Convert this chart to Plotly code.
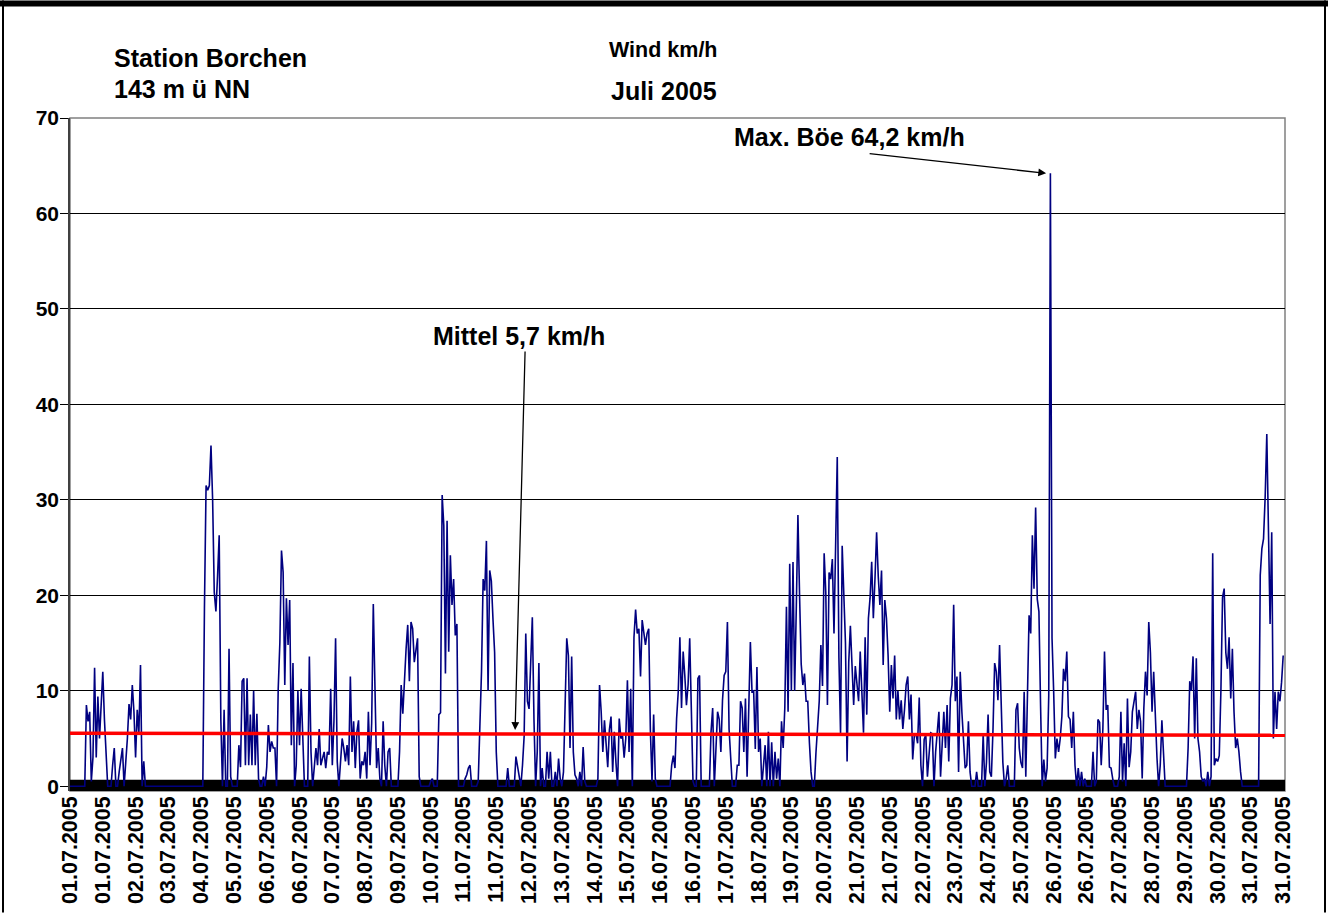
import plotly.graph_objects as go

# ---------------- data (hourly wind speed, km/h) ----------------
day01 = [0, 0, 0, 0, 0, 0, 0, 0, 0, 0, 8.5, 6.8, 7.8, 0.5, 3, 12.4, 3, 9.4, 5, 8.2, 12, 7, 3, 0]
day02 = [0, 0, 2.2, 4, 0, 0, 1.5, 3, 4, 0, 2.2, 5, 8.6, 7, 10.6, 7.8, 3, 8, 5.5, 12.7, 0, 2.6, 0, 0]
day03 = [0] * 24
day04 = [0, 0, 0, 0, 0, 0, 0, 0, 0, 0, 18.6, 31.5, 31, 31.5, 35.7, 30, 20.3, 18.3, 22, 26.3, 7, 0, 8, 0]
day05 = [0, 14.4, 1, 0, 0, 0, 0, 4.3, 2, 11, 11.3, 2.2, 11.3, 2.2, 7.5, 2.2, 10, 2.2, 7.6, 0.8, 0, 0, 1, 0]
day06 = [2, 6.4, 3.6, 4.7, 4, 4, 0, 10.2, 15, 24.7, 22.4, 10.6, 19.7, 14.8, 19.5, 4.3, 12.9, 0, 2.2, 10, 4.3, 10.2, 3.6, 0]
day07 = [0, 0, 13.6, 3.6, 0, 2, 4, 2.2, 6, 2.2, 3, 3.6, 1.9, 3.6, 3.3, 10.2, 2.2, 6.8, 15.5, 2.6, 0, 2.5, 5, 4]
day08 = [2.6, 4.3, 2.2, 11.5, 3.6, 6.8, 1.9, 5.7, 6.9, 0.8, 2.6, 2.2, 3.6, 0.8, 7.8, 2.2, 6.6, 19.1, 9.5, 1.9, 4, 0.8, 0, 6.8]
day09 = [2.2, 0, 3.6, 4, 0, 0, 0, 0, 0, 3.6, 10.6, 7.6, 11.6, 14.4, 16.9, 11, 17.2, 16.5, 13, 14.5, 15.5, 1, 0, 0]
day10 = [0, 0, 0, 0, 0.5, 0.8, 0, 0, 0, 7.5, 7.7, 30.5, 27.3, 11.8, 27.8, 14.1, 24.2, 19, 21.7, 15.8, 17, 0, 0, 0]
day11 = [0, 0.8, 1.2, 1.9, 2.2, 0, 0, 0, 0, 0.5, 6.4, 12, 21.7, 20.5, 25.7, 10, 22.6, 21.5, 17.5, 14, 3.6, 0, 0, 0]
day12 = [0, 0, 0, 1.9, 0, 0, 0, 0, 3.1, 2, 0.8, 0, 2.2, 5.2, 16, 8.9, 8.1, 12.9, 17.7, 7, 0, 3.6, 12.9, 0]
day13 = [1.9, 0, 0, 3.6, 0.8, 3.6, 0, 0, 1.5, 0, 2.9, 0.8, 0, 1.5, 8.5, 15.5, 13.7, 4, 13.6, 3.6, 1.2, 0.8, 0, 1.5]
day14 = [0, 4.1, 0.5, 0, 0, 0, 0, 0, 0, 0, 0.8, 10.6, 7.8, 3.6, 6.9, 4.3, 2, 5.9, 7.3, 1.5, 5.7, 2.5, 0, 7.1]
day15 = [5, 5.3, 3, 5, 11.1, 3.6, 10.2, 0, 15.6, 18.5, 16, 16.5, 11.5, 17.4, 15.8, 14.8, 16, 16.5, 5.9, 0.5, 7.5, 0.8, 0, 0]
day16 = [0, 0, 0, 0, 0, 0, 0, 2.2, 3.2, 1.9, 7.1, 9.9, 15.6, 8.2, 14.1, 11.6, 8.5, 10.6, 15.5, 8, 0.5, 0, 0, 11.3]
day17 = [11.6, 0, 0, 0, 0, 0, 0, 5.7, 8.2, 0, 4, 7.8, 7, 3.6, 9, 11.6, 12, 17.2, 6, 3, 0, 0, 0, 2.2]
day18 = [2.2, 8.9, 8.2, 3.6, 9.2, 1, 7, 15.1, 9.9, 10, 3.9, 12.5, 3.6, 5, 0, 1.9, 4.3, 0, 5.7, 0, 4.6, 0, 3.6, 0.8]
day19 = [2.9, 0, 6.8, 4, 8.2, 18.8, 7.8, 23.3, 10, 23.5, 10, 18.6, 28.4, 20, 12.8, 10.6, 11.8, 8.9, 8.9, 4.6, 1.5, 0, 0, 3.5]
day20 = [6, 8.9, 14.8, 10.5, 24.4, 20.3, 8.5, 22.4, 21.7, 23.8, 16, 25.2, 34.5, 13.5, 5.5, 25.2, 18.9, 15, 2.6, 13, 16.8, 12.9, 8.5, 12.6]
day21 = [10.6, 8.9, 14.1, 10.2, 5.6, 15.6, 7.5, 17.6, 19.7, 23.5, 17.6, 21.7, 26.6, 22, 19, 22.6, 12.7, 19.5, 17.6, 13.7, 7.8, 12.7, 9.2, 13.7]
day22 = [7, 10, 7, 9, 6, 8, 10.6, 11.5, 7, 9.6, 2.8, 5.3, 5.5, 4.5, 9.3, 2.2, 0, 4.9, 5.4, 1, 3, 5.6, 5.5, 0]
day23 = [3.6, 5.6, 7.8, 1, 5.4, 7.8, 4, 8.5, 2.6, 9.2, 10.6, 19, 8.9, 11.5, 1.5, 12, 7.8, 5, 1.9, 2.2, 6.8, 1.5, 0, 0]
day24 = [0, 1.5, 0, 0, 0, 5.5, 0, 2.5, 7.5, 1.5, 1, 6, 12.9, 12, 9, 14.8, 8, 2.5, 0, 0.8, 2.2, 0, 0, 0]
day25 = [0, 8, 8.7, 4, 2.5, 1.9, 9.9, 1, 8, 17.9, 16, 26.3, 20.7, 29.2, 19.6, 18.3, 8.5, 0, 2.8, 0.5, 1.9, 9.5, 64.2, 15.5]
day26 = [9.9, 2.9, 5, 3.6, 5, 7.3, 12.3, 11, 14.1, 7.3, 7, 4, 7.8, 2.2, 0, 1.9, 0, 1.5, 0, 0.8, 0, 0, 0, 0]
day27 = [3.6, 0, 0.5, 7, 6.7, 2.2, 6, 14.1, 8, 8.5, 2, 1.9, 0.8, 0, 0, 0, 1, 7.8, 0.5, 4.5, 0, 9.2, 2, 3.6]
day28 = [7.8, 8.9, 9.9, 6, 8, 6.8, 0.8, 8.2, 12, 9.5, 17.2, 14, 7.8, 12, 7, 3, 0, 2.2, 6.9, 3, 0, 0, 0, 0]
day29 = [0, 0, 0, 0, 0, 0, 0, 0, 0, 0, 4, 11, 10, 13.6, 5, 13.4, 5, 3.6, 1, 0.5, 0.8, 0, 1.5, 0]
day30 = [1, 24.4, 2.2, 2.9, 2.6, 3.2, 10, 19.8, 20.7, 14, 12.3, 15.6, 9.2, 14.4, 7.8, 4, 5, 3.6, 1.5, 0, 0, 0, 0, 0]
day31 = [0, 0, 0, 0, 0, 0, 22.1, 24.9, 25.9, 30.3, 36.9, 25.2, 17, 26.6, 5, 9.9, 6, 9.9, 8.9, 10.9, 13.7]

days = [day01, day02, day03, day04, day05, day06, day07, day08, day09, day10,
        day11, day12, day13, day14, day15, day16, day17, day18, day19, day20,
        day21, day22, day23, day24, day25, day26, day27, day28, day29, day30, day31]
wind_kmh = [v for d in days for v in d]
hours = list(range(len(wind_kmh)))

# category labels, one every 20 hours
tick_dates = ["01.07.2005", "01.07.2005", "02.07.2005", "03.07.2005", "04.07.2005",
              "05.07.2005", "06.07.2005", "06.07.2005", "07.07.2005", "08.07.2005",
              "09.07.2005", "10.07.2005", "11.07.2005", "11.07.2005", "12.07.2005",
              "13.07.2005", "14.07.2005", "15.07.2005", "16.07.2005", "16.07.2005",
              "17.07.2005", "18.07.2005", "19.07.2005", "20.07.2005", "21.07.2005",
              "21.07.2005", "22.07.2005", "23.07.2005", "24.07.2005", "25.07.2005",
              "26.07.2005", "26.07.2005", "27.07.2005", "28.07.2005", "29.07.2005",
              "30.07.2005", "31.07.2005", "31.07.2005"]
tick_step_hours = 20
tick_hours = [i * tick_step_hours for i in range(len(tick_dates))]

y_ticks = [0, 10, 20, 30, 40, 50, 60, 70]

# mean / trend line (km/h) at start and end of month
mean_trend = [5.55, 5.35]
# calm band (zero series)
calm_series = [0, 0]

max_gust_value = max(wind_kmh)
max_gust_hour = wind_kmh.index(max_gust_value)

# ---------------- figure ----------------
FONT = "Liberation Sans, Arial, sans-serif"
X_END = 741.1
W, H = 1328, 916
ML, MR, MT, MB = 70, 43, 118, 122
PW, PH = W - ML - MR, H - MT - MB


def px(xpix):
    return (xpix - ML) / PW


def py(ypix):
    return (H - MB - ypix) / PH


fig = go.Figure()

fig.add_trace(go.Scatter(x=[0, X_END], y=calm_series, mode="lines",
                         line=dict(color="black", width=13), hoverinfo="skip"))
fig.add_trace(go.Scatter(x=hours, y=wind_kmh, mode="lines",
                         line=dict(color="#000080", width=1.6), name="Wind km/h"))
fig.add_trace(go.Scatter(x=[0, X_END], y=mean_trend, mode="lines",
                         line=dict(color="#ff0000", width=3.5), hoverinfo="skip"))

fig.update_layout(
    width=W, height=H,
    margin=dict(l=ML, r=MR, t=MT, b=MB),
    paper_bgcolor="white", plot_bgcolor="white",
    showlegend=False,
    font=dict(family=FONT, color="black"),
    xaxis=dict(range=[0, X_END], tickmode="array", tickvals=tick_hours, ticktext=tick_dates,
               tickangle=-90, tickfont=dict(family=FONT, size=21.5, color="black", weight="bold"),
               showgrid=False, zeroline=False, showline=False, ticks=""),
    yaxis=dict(range=[-0.5, 70], tickmode="array", tickvals=y_ticks,
               tickfont=dict(family=FONT, size=21, color="black", weight="bold"),
               showgrid=True, gridcolor="black", gridwidth=1, zeroline=False,
               showline=True, linecolor="#404040", linewidth=1.5,
               ticks="outside", ticklen=8, tickcolor="black", ticklabelstandoff=-3),
)

# plot border and outer frame
fig.add_shape(type="rect", xref="paper", yref="paper", x0=0, x1=1, y0=0, y1=1,
              line=dict(color="#808080", width=1.5), layer="below")
fig.add_shape(type="line", xref="paper", yref="paper", x0=px(0), x1=px(W), y0=py(3), y1=py(3),
              line=dict(color="black", width=6))
fig.add_shape(type="line", xref="paper", yref="paper", x0=px(3), x1=px(3), y0=py(0), y1=py(H),
              line=dict(color="black", width=2))
fig.add_shape(type="line", xref="paper", yref="paper", x0=px(1325), x1=px(1325), y0=py(0), y1=py(H),
              line=dict(color="black", width=2))


def label(text, xpix, ypix, size, xanchor="left"):
    fig.add_annotation(text=f"<b>{text}</b>", xref="paper", yref="paper",
                       x=px(xpix), y=py(ypix), xanchor=xanchor, yanchor="middle",
                       showarrow=False, font=dict(family=FONT, size=size, color="black"))


label("Station Borchen", 112, 58, 25)
label("143 m ü NN", 112, 89, 25)
label("Wind km/h", 663, 50, 21.5, "center")
label("Juli 2005", 664, 91, 25, "center")
label("Max. Böe 64,2 km/h", 732, 137, 25)
label("Mittel 5,7 km/h", 431, 337, 25)

# arrows
fig.add_annotation(x=max_gust_hour - 2.6, y=max_gust_value, xref="x", yref="y", text="",
                   showarrow=True, arrowhead=2, arrowsize=1.2, arrowwidth=1.3, arrowcolor="black",
                   standoff=0, ax=-178, ay=-20)
fig.add_annotation(x=271.5, y=5.9, xref="x", yref="y", text="",
                   showarrow=True, arrowhead=2, arrowsize=1.2, arrowwidth=1.3, arrowcolor="black",
                   standoff=0, ax=10, ay=-380)

fig.write_html("out.html", config={"displayModeBar": False},
               post_script="document.body.style.margin='0';document.body.style.overflow='hidden';")
